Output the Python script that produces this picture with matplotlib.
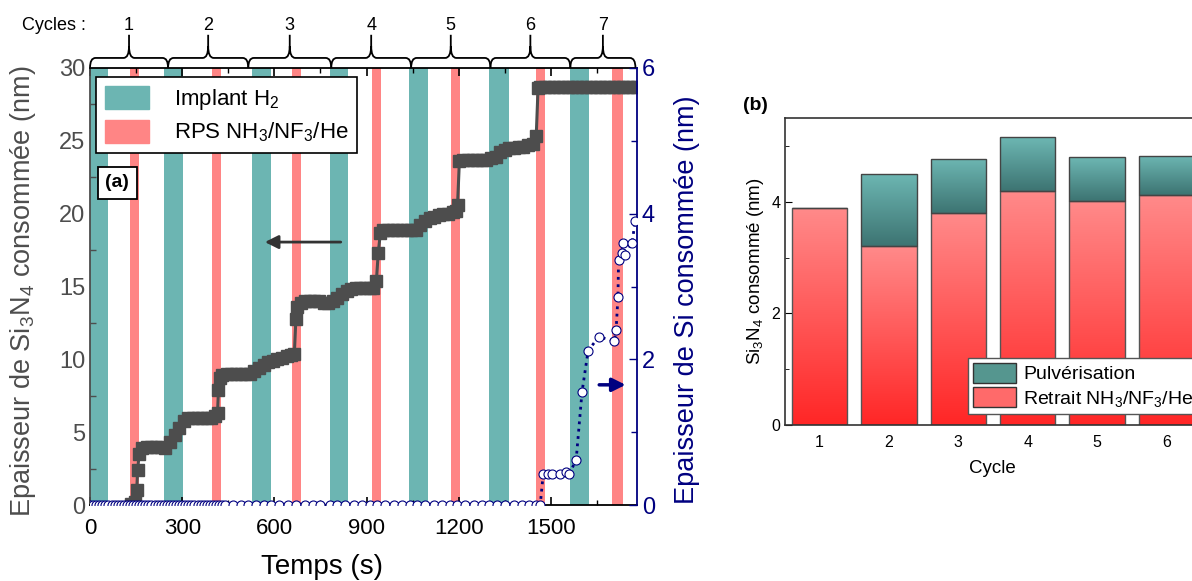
import matplotlib
matplotlib.use('Agg')
import matplotlib.pyplot as plt
import numpy as np
import matplotlib.transforms as mtransforms
from matplotlib.patches import Patch, PathPatch
from matplotlib.path import Path
from matplotlib.colors import LinearSegmentedColormap
from matplotlib.ticker import MultipleLocator

plt.rcParams['font.family'] = ['Liberation Sans', 'DejaVu Sans']
plt.rcParams['mathtext.default'] = 'regular'

# ---- panel (a) data ----
implant_start = [0, 242, 527, 782, 1039, 1300, 1563]
implant_end = [59, 303, 589, 840, 1101, 1362, 1625]
rps_start = [130, 397, 657, 918, 1176, 1450, 1700]
rps_end = [160, 427, 687, 948, 1205, 1482, 1733]
cycle_edges = [0, 254, 515, 785, 1045, 1303, 1563, 1775]
cycle_labels = ['1', '2', '3', '4', '5', '6', '7']

# Si3N4 consumed (nm), left axis
t_sin = [135, 145, 152, 155, 160, 170, 185, 200, 215, 230, 245, 260, 275, 290, 305, 318,
         335, 350, 365, 380, 395, 408, 415, 418, 422, 430, 445, 460, 475, 490, 505, 520,
         535, 550, 565, 580, 595, 610, 625, 640, 655, 665, 670, 675, 685, 700, 715, 730,
         745, 760, 775, 790, 805, 820, 835, 850, 865, 880, 895, 910, 922, 932, 938, 945,
         955, 970, 985, 1000, 1015, 1030, 1045, 1060, 1075, 1090, 1105, 1120, 1135, 1150,
         1165, 1180, 1190, 1196, 1202, 1215, 1230, 1245, 1260, 1275, 1290, 1305, 1320, 1335,
         1350, 1365, 1380, 1395, 1410, 1425, 1440, 1452, 1458, 1465, 1480, 1495, 1510, 1525,
         1540, 1555, 1570, 1585, 1600, 1615, 1630, 1645, 1660, 1675, 1690, 1705, 1720, 1735,
         1750, 1765, 1780]
e_sin = [0.1, 0.2, 1.0, 2.4, 3.5, 3.9, 4.0, 4.0, 4.0, 4.0, 3.9, 4.3, 4.8, 5.3, 5.8, 6.0,
         6.0, 6.0, 6.0, 6.0, 6.0, 6.1, 6.3, 7.9, 8.7, 8.9, 9.0, 9.0, 9.0, 9.0, 9.0, 9.0,
         9.2, 9.4, 9.6, 9.8, 9.9, 10.0, 10.1, 10.2, 10.3, 10.4, 12.8, 13.6, 13.9, 14.0, 14.0, 14.0,
         14.0, 13.9, 13.9, 14.0, 14.2, 14.5, 14.7, 14.8, 14.9, 14.9, 14.9, 14.9, 14.9, 15.4, 17.3, 18.7,
         18.9, 18.9, 18.9, 18.9, 18.9, 18.9, 18.9, 18.9, 19.2, 19.5, 19.7, 19.8, 19.9, 20.0,
         20.0, 20.1, 20.2, 20.6, 23.6, 23.7, 23.7, 23.7, 23.7, 23.7, 23.7, 23.8, 23.9, 24.2,
         24.4, 24.5, 24.5, 24.6, 24.6, 24.7, 24.8, 25.3, 28.6, 28.7, 28.7, 28.7, 28.7, 28.7,
         28.7, 28.7, 28.7, 28.7, 28.7, 28.7, 28.7, 28.7, 28.7, 28.7, 28.7, 28.7, 28.7, 28.7,
         28.7, 28.7, 28.7]

# Si consumed (nm), right axis
t_si = [0, 10, 20, 30, 40, 50, 60, 70, 80, 90, 100, 110, 120, 130, 140, 150, 160, 170,
        180, 190, 200, 210, 220, 230, 240, 250, 260, 270, 280, 290, 300, 310, 320, 330,
        340, 350, 360, 370, 380, 390, 400, 410, 420, 430, 440, 465, 490, 515, 540, 565,
        590, 615, 645, 670, 700, 725, 750, 780, 805, 830, 860, 885, 910, 935, 960, 990,
        1015, 1040, 1065, 1090, 1120, 1145, 1170, 1195, 1220, 1250, 1275, 1300, 1325,
        1350, 1380, 1405, 1430, 1450, 1465, 1475, 1490, 1505, 1530, 1550, 1560, 1582,
        1601, 1621, 1656, 1706, 1712, 1718, 1720, 1731, 1733, 1741, 1764, 1774]
e_si = [0] * 85 + [0.43, 0.43, 0.43, 0.43, 0.45, 0.43, 0.62,
        1.55, 2.12, 2.31, 2.25, 2.4, 2.86, 3.36, 3.46, 3.6, 3.43, 3.6, 3.9]

# ---- panel (b) data ----
cycles_b = [1, 2, 3, 4, 5, 6]
retrait = [3.88, 3.2, 3.79, 4.2, 4.02, 4.12]
pulverisation = [0.0, 1.3, 0.98, 0.96, 0.78, 0.70]

teal = '#6cb5b2'
pink = '#ff8585'
grey = '#4d4d4d'

fig = plt.figure(figsize=(11.92, 5.81), dpi=100)

# ================= panel (a) =================
ax = fig.add_axes([90/1192, 1-505/581, 547/1192, 437/581])
for s, e in zip(implant_start, implant_end):
    ax.axvspan(s, e, color=teal, lw=0, zorder=0)
for s, e in zip(rps_start, rps_end):
    ax.axvspan(s, e, color=pink, lw=0, zorder=0)

ax.plot(t_sin, e_sin, '-s', color=grey, lw=2.2, ms=8.5, mfc=grey, mec=grey, zorder=3)
ax.set_xlim(0, 1780)
ax.set_ylim(0, 30)
ax.xaxis.set_major_locator(MultipleLocator(300))
ax.xaxis.set_minor_locator(MultipleLocator(150))
ax.yaxis.set_major_locator(MultipleLocator(5))
ax.yaxis.set_minor_locator(MultipleLocator(2.5))
ax.set_xticks([0, 300, 600, 900, 1200, 1500])
ax.tick_params(axis='x', which='both', direction='in', top=True, labelsize=16,
               colors='black', pad=9)
ax.tick_params(axis='x', which='major', length=6, width=1.2)
ax.tick_params(axis='x', which='minor', length=3.5, width=1)
ax.tick_params(axis='y', which='both', direction='in', labelsize=17, colors=grey, width=1)
ax.tick_params(axis='y', which='major', length=0)
ax.tick_params(axis='y', which='minor', length=4)
ax.spines['left'].set_color(grey)
ax.spines['right'].set_visible(False)
for sp in ax.spines.values():
    sp.set_linewidth(1.3)
ax.set_xlabel('Temps (s)', fontsize=20)
ax.xaxis.set_label_coords(0.424, -0.112)
ax.set_ylabel('Epaisseur de Si$_3$N$_4$ consommée (nm)', fontsize=19.5, color=grey)
ax.yaxis.set_label_coords(-0.095, 0.49)

ax.annotate('', xy=(560, 18.05), xytext=(825, 18.05),
            arrowprops=dict(arrowstyle='-|>', color='#333333', lw=2, mutation_scale=20))

leg = ax.legend(handles=[Patch(color=teal, label='Implant H$_2$'),
                         Patch(color=pink, label='RPS NH$_3$/NF$_3$/He')],
                loc='upper left', bbox_to_anchor=(0.011, 0.979), borderaxespad=0,
                fontsize=16, handlelength=2.0, handleheight=1.2, handletextpad=1.1,
                labelspacing=0.35, borderpad=0.4, fancybox=False, framealpha=1)
leg.get_frame().set_edgecolor('black')
leg.get_frame().set_linewidth(1.2)

ax.text(0.05, 0.737, '(a)', transform=ax.transAxes, fontsize=14, fontweight='bold',
        ha='center', va='center',
        bbox=dict(boxstyle='square,pad=0.4', fc='white', ec='black', lw=1.3))

# cycle braces on top
trans = mtransforms.blended_transform_factory(ax.transData, ax.transAxes)
M, C, L = Path.MOVETO, Path.CURVE3, Path.LINETO
for a, b, lab in zip(cycle_edges[:-1], cycle_edges[1:], cycle_labels):
    m = (a + b) / 2
    d = 18
    y0, yh, yn, yt = 1.0, 1.023, 1.05, 1.076
    verts = [(a, y0), (a, yh), (a + d, yh), (m - d, yh), (m, yh), (m, yn), (m, yt),
             (m, yn), (m, yh), (m + d, yh), (b - d, yh), (b, yh), (b, y0)]
    codes = [M, C, C, L, C, C, L, M, C, C, L, C, C]
    ax.add_patch(PathPatch(Path(verts, codes), transform=trans, fc='none', ec='black',
                           lw=1.3, clip_on=False))
    ax.text(m, 1.098, lab, transform=trans, ha='center', va='center', fontsize=13)
fig.text(22/1192, 1-26/581, 'Cycles :', ha='left', va='center', fontsize=13)

# right axis
ax2 = ax.twinx()
ax2.plot(t_si, e_si, ':', color='navy', lw=2, zorder=3)
ax2.plot(t_si, e_si, 'o', ms=6.5, mfc='white', mec='navy', mew=0.8, zorder=4)
ax2.set_ylim(0, 6)
ax2.yaxis.set_major_locator(MultipleLocator(2))
ax2.yaxis.set_minor_locator(MultipleLocator(1))
ax2.tick_params(axis='y', which='both', direction='in', labelsize=17, colors='navy', width=1)
ax2.tick_params(axis='y', which='major', length=6)
ax2.tick_params(axis='y', which='minor', length=4)
ax2.spines['right'].set_color('navy')
ax2.spines['right'].set_linewidth(1.3)
for k in ['left', 'top', 'bottom']:
    ax2.spines[k].set_visible(False)
ax2.set_ylabel('Epaisseur de Si consommée (nm)', fontsize=19.5, color='navy')
ax2.yaxis.set_label_coords(1.068, 0.47)
ax2.annotate('', xy=(1752, 1.65), xytext=(1648, 1.65),
             arrowprops=dict(arrowstyle='-|>', color='navy', lw=2.5, mutation_scale=20))

# ================= panel (b) =================
bx = fig.add_axes([785/1192, 1-425/581, 416/1192, 307/581])
bars_r = bx.bar(cycles_b, retrait, width=0.8, fc='none', ec='#555555', lw=1, zorder=2)
bars_p = bx.bar(cycles_b, pulverisation, width=0.8, bottom=retrait, fc='none',
                ec='#444444', lw=1, zorder=2)

grad = np.linspace(0, 1, 256).reshape(-1, 1)


def gradient_fill(axis, bars, c_bottom, c_top):
    cmap = LinearSegmentedColormap.from_list('g', [c_bottom, c_top])
    for bar in bars:
        if bar.get_height() <= 0:
            continue
        x, y = bar.get_x(), bar.get_y()
        w, h = bar.get_width(), bar.get_height()
        im = axis.imshow(grad, cmap=cmap, origin='lower', aspect='auto',
                         extent=[x, x + w, y, y + h], zorder=1.5)
        im.set_clip_path(bar)


gradient_fill(bx, bars_r, '#ff2626', '#ff8a8a')
gradient_fill(bx, bars_p, '#3d7472', '#6db7b3')
bx.set_xlim(0.5, 6.5)
bx.set_ylim(0, 5.5)
bx.set_xticks(cycles_b)
bx.yaxis.set_major_locator(MultipleLocator(2))
bx.yaxis.set_minor_locator(MultipleLocator(1))
bx.tick_params(axis='x', length=0, labelsize=11.5, pad=7)
bx.tick_params(axis='y', which='both', direction='in', labelsize=11.5)
bx.tick_params(axis='y', which='major', length=5)
bx.tick_params(axis='y', which='minor', length=3)
for sp in bx.spines.values():
    sp.set_linewidth(1.2)
    sp.set_color('#333333')
bx.set_xlabel('Cycle', fontsize=13.5)
bx.xaxis.set_label_coords((992-785)/416, -0.115)
bx.set_ylabel('Si$_3$N$_4$ consommé (nm)', fontsize=13.5)
leg_b = bx.legend(handles=[Patch(fc='#55968f', ec='#333333', label='Pulvérisation'),
                           Patch(fc='#ff6a6a', ec='#333333', label='Retrait NH$_3$/NF$_3$/He')],
                  loc='upper left', bbox_to_anchor=(0.44, 0.218), borderaxespad=0,
                  fontsize=14, handlelength=2.2, handleheight=1.2, handletextpad=0.4,
                  labelspacing=0.2, borderpad=0.25, fancybox=False, framealpha=1)
leg_b.get_frame().set_edgecolor('#555555')
fig.text(755/1192, 1-105/581, '(b)', fontsize=14, fontweight='bold', ha='center', va='center')

fig.savefig('out.png', dpi=100)
